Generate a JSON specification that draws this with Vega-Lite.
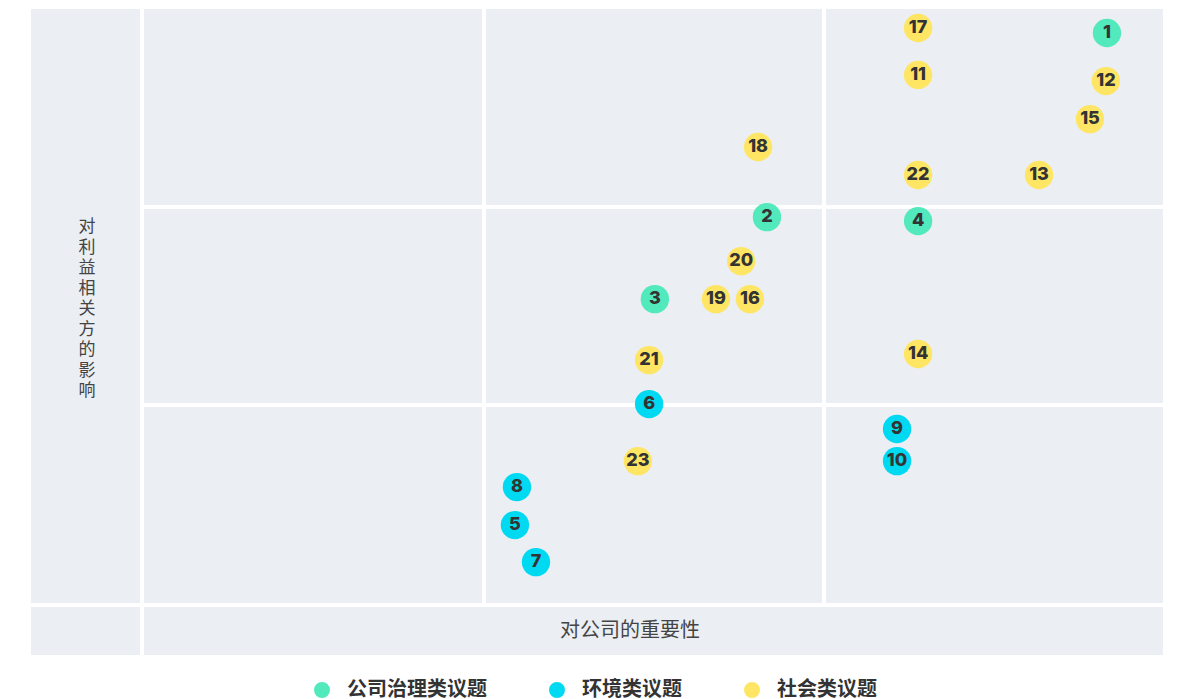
{
  "$schema": "https://vega.github.io/schema/vega-lite/v6.json",
  "width": 1132,
  "height": 646,
  "padding": {"left": 29, "top": 7, "right": 15, "bottom": 0},
  "background": "white",
  "view": {"fill": "#ebeef3", "stroke": null},
  "config": {"font": "Noto Sans CJK SC"},
  "datasets": {
    "topics": [
      {"id": "1", "cat": "公司治理类议题", "x": 2.835, "y": 2.879},
      {"id": "17", "cat": "社会类议题", "x": 2.279, "y": 2.904},
      {"id": "11", "cat": "社会类议题", "x": 2.279, "y": 2.667},
      {"id": "12", "cat": "社会类议题", "x": 2.832, "y": 2.636},
      {"id": "15", "cat": "社会类议题", "x": 2.785, "y": 2.444},
      {"id": "18", "cat": "社会类议题", "x": 1.808, "y": 2.303},
      {"id": "22", "cat": "社会类议题", "x": 2.279, "y": 2.162},
      {"id": "13", "cat": "社会类议题", "x": 2.635, "y": 2.162},
      {"id": "2", "cat": "公司治理类议题", "x": 1.834, "y": 1.949},
      {"id": "4", "cat": "公司治理类议题", "x": 2.279, "y": 1.929},
      {"id": "20", "cat": "社会类议题", "x": 1.758, "y": 1.727},
      {"id": "3", "cat": "公司治理类议题", "x": 1.504, "y": 1.535},
      {"id": "19", "cat": "社会类议题", "x": 1.684, "y": 1.535},
      {"id": "16", "cat": "社会类议题", "x": 1.784, "y": 1.535},
      {"id": "21", "cat": "社会类议题", "x": 1.487, "y": 1.227},
      {"id": "14", "cat": "社会类议题", "x": 2.279, "y": 1.258},
      {"id": "6", "cat": "环境类议题", "x": 1.487, "y": 1.005},
      {"id": "9", "cat": "环境类议题", "x": 2.217, "y": 0.879},
      {"id": "10", "cat": "环境类议题", "x": 2.217, "y": 0.717},
      {"id": "23", "cat": "社会类议题", "x": 1.454, "y": 0.717},
      {"id": "8", "cat": "环境类议题", "x": 1.098, "y": 0.586},
      {"id": "5", "cat": "环境类议题", "x": 1.092, "y": 0.394},
      {"id": "7", "cat": "环境类议题", "x": 1.154, "y": 0.207}
    ],
    "vlines": [
      {"x": -0.006, "from": -0.262, "to": 3},
      {"x": 1.001, "from": -0.01, "to": 3},
      {"x": 2.002, "from": -0.01, "to": 3}
    ],
    "hlines": [
      {"y": -0.01, "from": -0.3327, "to": 3},
      {"y": 1.0, "from": -0.006, "to": 3},
      {"y": 2.0, "from": -0.006, "to": 3}
    ],
    "ytitle": [{"x": -0.168, "y": 1.939, "t": "对利益相关方的影响"}],
    "xtitle": [{"x": 1.431, "y": -0.141, "t": "对公司的重要性"}]
  },
  "layer": [
    {
      "data": {"name": "vlines"},
      "mark": {"type": "rule", "color": "white", "strokeWidth": 4},
      "encoding": {
        "x": {"field": "x", "type": "quantitative", "scale": {"domain": [-0.3327, 3], "nice": false, "zero": false}, "axis": null},
        "y": {"field": "from", "type": "quantitative", "scale": {"domain": [-0.262, 3], "nice": false, "zero": false}, "axis": null},
        "y2": {"field": "to"}
      }
    },
    {
      "data": {"name": "hlines"},
      "mark": {"type": "rule", "color": "white", "strokeWidth": 4},
      "encoding": {
        "y": {"field": "y", "type": "quantitative"},
        "x": {"field": "from", "type": "quantitative"},
        "x2": {"field": "to"}
      }
    },
    {
      "data": {"name": "ytitle"},
      "transform": [{"calculate": "split(datum.t, '')", "as": "chars"}],
      "mark": {"type": "text", "fontSize": 17, "lineHeight": 20.5, "color": "#444", "align": "center", "baseline": "top"},
      "encoding": {
        "x": {"field": "x", "type": "quantitative"},
        "y": {"field": "y", "type": "quantitative"},
        "text": {"field": "chars"}
      }
    },
    {
      "data": {"name": "xtitle"},
      "mark": {"type": "text", "fontSize": 20, "color": "#444", "align": "center", "baseline": "middle"},
      "encoding": {
        "x": {"field": "x", "type": "quantitative"},
        "y": {"field": "y", "type": "quantitative"},
        "text": {"field": "t"}
      }
    },
    {
      "data": {"name": "topics"},
      "mark": {"type": "circle", "size": 804, "opacity": 1},
      "encoding": {
        "x": {"field": "x", "type": "quantitative"},
        "y": {"field": "y", "type": "quantitative"},
        "color": {
          "field": "cat",
          "type": "nominal",
          "scale": {"domain": ["公司治理类议题", "环境类议题", "社会类议题"], "range": ["#52e9bd", "#00d9f2", "#ffe564"]},
          "legend": {
            "orient": "none",
            "direction": "horizontal",
            "legendX": 281,
            "legendY": 671,
            "title": null,
            "symbolType": "circle",
            "symbolSize": 254,
            "symbolOpacity": 1,
            "symbolStrokeWidth": 0,
            "labelFontSize": 20,
            "labelFontWeight": "bold",
            "labelColor": "#333",
            "labelOffset": 15,
            "columnPadding": 60,
            "labelLimit": 400
          }
        }
      }
    },
    {
      "data": {"name": "topics"},
      "mark": {"type": "text", "fontSize": 18, "fontWeight": 800, "font": "Inter", "color": "#333", "align": "center", "baseline": "middle"},
      "encoding": {
        "x": {"field": "x", "type": "quantitative"},
        "y": {"field": "y", "type": "quantitative"},
        "text": {"field": "id"}
      }
    }
  ]
}
